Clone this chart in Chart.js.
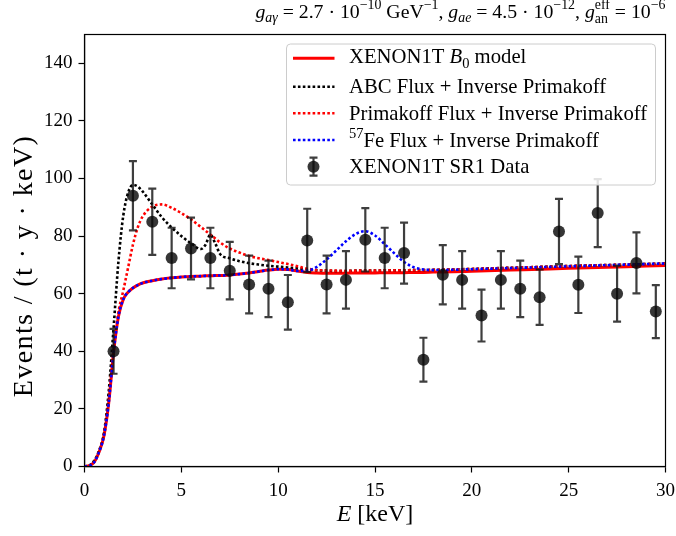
<!DOCTYPE html>
<html>
<head>
<meta charset="utf-8">
<script src="https://cdn.jsdelivr.net/npm/chart.js@4.4.1/dist/chart.umd.min.js"></script>
<style>
  html, body { margin: 0; padding: 0; background: #fff; }
  #wrap { width: 676px; height: 536px; }
</style>
</head>
<body>
<div id="wrap"><canvas id="spectrum" width="676" height="536"></canvas></div>
<script>
const SERIF = '"Liberation Serif", "DejaVu Serif", serif';

// XENON1T SR1 binned rate: bin centres [keV], rate and 1-sigma error
const binCenters = [1.5, 2.5, 3.5, 4.5, 5.5, 6.5, 7.5, 8.5, 9.5, 10.5, 11.5, 12.5, 13.5, 14.5, 15.5,
                    16.5, 17.5, 18.5, 19.5, 20.5, 21.5, 22.5, 23.5, 24.5, 25.5, 26.5, 27.5, 28.5, 29.5];
const sr1Rate = [40, 94, 85, 72.4, 75.7, 72.4, 68, 63.2, 61.7, 57, 78.5, 63.2, 64.8, 78.7, 72.4,
                 74.1, 37.1, 66.6, 64.8, 52.4, 64.8, 61.7, 58.8, 81.6, 63.1, 88, 60, 70.7, 53.8];
const sr1Err = [7.8, 12, 11.5, 10.5, 10.7, 10.5, 10, 10, 9.8, 9.5, 11, 10, 10, 11, 10.5,
                10.6, 7.6, 10.3, 10, 9, 10, 9.8, 9.6, 11.3, 9.8, 11.8, 9.7, 10.6, 9.2];

// model spectra sampled on a common energy grid [keV]
const energyGrid = [0, 0.25, 0.5, 0.75, 1.0, 1.25, 1.5, 1.75, 2.0, 2.25, 2.5, 2.75, 3.0, 3.5, 4.0, 4.5,
                    5.0, 5.5, 6.0, 6.25, 6.5, 6.75, 7.0, 7.5, 8.0, 8.5, 9.0, 9.5, 10.0, 10.5, 11.0, 11.5,
                    12.0, 12.5, 13.0, 13.5, 14.0, 14.5, 15.0, 15.5, 16.0, 16.5, 17.0, 17.5, 18, 19, 20,
                    22, 24, 26, 28, 30];
const b0Model = [0, 0.3, 1.5, 5, 10.5, 22, 39.5, 52, 58, 60.5, 62, 63, 63.7, 64.5, 65.1, 65.5,
                 65.8, 66, 66.1, 66.2, 66.2, 66.3, 66.3, 66.5, 66.8, 67.2, 67.7, 68.2, 68.5, 68.4, 67.9, 67.4,
                 67.2, 67.1, 67.1, 67.1, 67.2, 67.2, 67.2, 67.3, 67.3, 67.3, 67.4, 67.4, 67.5, 67.6, 67.8,
                 68.2, 68.6, 69, 69.4, 69.8];
const abcFlux = [0, 0.4, 2, 5.5, 11.5, 26, 48, 71, 87, 95, 97.8, 97.2, 95.5, 91, 86.5, 83,
                 80, 77.5, 75.5, 77, 80.5, 77.5, 73.8, 72.3, 71.3, 70.6, 70.1, 69.7, 69.4, 69.1, 68.8, 68.4,
                 68.1, 68, 67.9, 67.9, 68, 68, 68, 68.1, 68.1, 68.1, 68.2, 68.2, 68.3, 68.4, 68.6,
                 69, 69.4, 69.8, 70.1, 70.5];
const primakoffFlux = [0, 0.3, 1.6, 5.2, 11, 23, 40.5, 53.5, 61, 69, 77, 83, 86.8, 90.2, 91, 89.8,
                       88, 85.8, 83.2, 81.9, 80.5, 79.2, 77.8, 75.7, 74.3, 73.1, 72.3, 71.7, 71, 70.3, 69.5, 68.7,
                       68.2, 68.1, 68, 67.9, 68, 68, 68, 68.1, 68.1, 68.1, 68.2, 68.2, 68.3, 68.4, 68.6,
                       69, 69.4, 69.8, 70.1, 70.5];
const fe57Flux = [0, 0.3, 1.5, 5, 10.5, 22, 39.5, 52, 58, 60.5, 62, 63, 63.7, 64.5, 65.1, 65.5,
                  65.8, 66, 66.1, 66.2, 66.2, 66.3, 66.3, 66.5, 66.8, 67.2, 67.7, 68.2, 68.5, 68.4, 67.9, 68,
                  69.3, 71.9, 75, 78.2, 80.7, 81.7, 80.2, 77.2, 74, 71, 69.2, 68.4, 68.2, 68.3, 68.5,
                  68.9, 69.3, 69.7, 70.1, 70.5];

const xTicks = [0, 5, 10, 15, 20, 25, 30];
const yTicks = [0, 20, 40, 60, 80, 100, 120, 140];

const curve = (ys) => energyGrid.map((e, i) => ({ x: e, y: ys[i] }));

// text made of runs: italic, sub/superscript, or a stacked sup+sub pair
function runFont(r, size) {
  const s = (r.pos || r.stack) ? size * 0.7 : size;
  return (r.it ? 'italic ' : '') + s + 'px ' + SERIF;
}
function runWidth(ctx, r, size) {
  ctx.font = runFont(r, size);
  if (r.stack) return Math.max(ctx.measureText(r.stack.sup).width, ctx.measureText(r.stack.sub).width);
  return ctx.measureText(r.t).width;
}
function drawRuns(ctx, runs, x, y, size, align) {
  const total = runs.reduce((w, r) => w + runWidth(ctx, r, size), 0);
  let cx = align === 'right' ? x - total : align === 'center' ? x - total / 2 : x;
  ctx.textAlign = 'left';
  ctx.textBaseline = 'alphabetic';
  ctx.fillStyle = '#000';
  for (const r of runs) {
    const w = runWidth(ctx, r, size);
    ctx.font = runFont(r, size);
    if (r.stack) {
      ctx.fillText(r.stack.sup, cx, y - size * 0.42);
      ctx.fillText(r.stack.sub, cx, y + size * 0.26);
    } else {
      const dy = r.pos === 'sub' ? size * 0.24 : r.pos === 'sup' ? -size * 0.42 : 0;
      ctx.fillText(r.t, cx, y + dy);
    }
    cx += w;
  }
}

const titleRuns = [
  { t: 'g', it: 1 }, { t: 'aγ', it: 1, pos: 'sub' }, { t: ' = 2.7 · 10' }, { t: '−10', pos: 'sup' },
  { t: ' GeV' }, { t: '−1', pos: 'sup' }, { t: ', ' },
  { t: 'g', it: 1 }, { t: 'ae', it: 1, pos: 'sub' }, { t: ' = 4.5 · 10' }, { t: '−12', pos: 'sup' }, { t: ', ' },
  { t: 'g', it: 1 }, { stack: { sup: 'eff', sub: 'an' } }, { t: ' = 10' }, { t: '−6', pos: 'sup' }
];
const xLabelRuns = [{ t: 'E', it: 1 }, { t: ' [keV]' }];
const yLabelRuns = [{ t: 'Events / (t · y · keV)' }];

const legendRows = [
  { ds: 0, runs: [{ t: 'XENON1T ' }, { t: 'B', it: 1 }, { t: '0', pos: 'sub' }, { t: ' model' }], base: 63.3, hy: 58.3 },
  { ds: 1, runs: [{ t: 'ABC Flux + Inverse Primakoff' }], base: 93.3, hy: 86.7 },
  { ds: 2, runs: [{ t: 'Primakoff Flux + Inverse Primakoff' }], base: 120, hy: 113.3 },
  { ds: 3, runs: [{ t: '57', pos: 'sup' }, { t: 'Fe Flux + Inverse Primakoff' }], base: 146.7, hy: 140 },
  { ds: 4, runs: [{ t: 'XENON1T SR1 Data' }], base: 173.3, hy: 166.7 }
];

const DOT = [2.6, 2.3];
const ERR_COLOR = 'rgba(20,20,20,0.82)';

function errorBar(ctx, x, y0, y1, cap) {
  ctx.beginPath();
  ctx.moveTo(x, y0); ctx.lineTo(x, y1);
  ctx.moveTo(x - cap, y0); ctx.lineTo(x + cap, y0);
  ctx.moveTo(x - cap, y1); ctx.lineTo(x + cap, y1);
  ctx.stroke();
}

const errorBars = {
  id: 'errorBars',
  beforeDatasetDraw(chart, args) {
    if (args.index !== 4) return;
    const { ctx, scales: { x, y } } = chart;
    ctx.save();
    ctx.strokeStyle = ERR_COLOR;
    ctx.lineWidth = 2.2;
    binCenters.forEach((e, i) => {
      const px = x.getPixelForValue(e);
      errorBar(ctx, px, y.getPixelForValue(sr1Rate[i] + sr1Err[i]), y.getPixelForValue(sr1Rate[i] - sr1Err[i]), 4);
    });
    ctx.restore();
  }
};

const frameAndText = {
  id: 'frameAndText',
  afterDatasetsDraw(chart) {
    const { ctx, chartArea: a } = chart;
    ctx.save();
    ctx.strokeStyle = '#000';
    ctx.lineWidth = 1.2;
    ctx.strokeRect(a.left, a.top, a.right - a.left, a.bottom - a.top);
    ctx.restore();
  },
  afterDraw(chart) {
    const { ctx, chartArea: a } = chart;
    ctx.save();
    drawRuns(ctx, titleRuns, a.right, 17.5, 19.8, 'right');
    drawRuns(ctx, xLabelRuns, (a.left + a.right) / 2, 521, 24, 'center');
    ctx.save();
    ctx.translate(32, 266);
    ctx.rotate(-Math.PI / 2);
    ctx.letterSpacing = '1.4px';
    drawRuns(ctx, yLabelRuns, 0, 0, 28, 'center');
    ctx.letterSpacing = '0px';
    ctx.restore();

    // legend box
    const bx = 286.5, by = 44, bw = 369, bh = 141, r = 4;
    ctx.beginPath();
    ctx.roundRect(bx, by, bw, bh, r);
    ctx.fillStyle = 'rgba(255,255,255,0.85)';
    ctx.fill();
    ctx.strokeStyle = '#cccccc';
    ctx.lineWidth = 1;
    ctx.stroke();

    legendRows.forEach(row => {
      const ds = chart.data.datasets[row.ds];
      if (row.ds === 4) {
        ctx.strokeStyle = ERR_COLOR;
        ctx.lineWidth = 2.2;
        errorBar(ctx, 313.5, row.hy - 9, row.hy + 9, 4);
        ctx.beginPath();
        ctx.arc(313.5, row.hy, 6, 0, Math.PI * 2);
        ctx.fillStyle = ds.backgroundColor;
        ctx.fill();
      } else {
        ctx.beginPath();
        ctx.setLineDash(ds.borderDash || []);
        ctx.strokeStyle = ds.borderColor;
        ctx.lineWidth = ds.borderWidth;
        ctx.moveTo(293, row.hy);
        ctx.lineTo(334.5, row.hy);
        ctx.stroke();
        ctx.setLineDash([]);
      }
      drawRuns(ctx, row.runs, 349, row.base, 20.7, 'left');
    });
    ctx.restore();
  }
};

const lineSet = (data, color, width, dash, order) => ({
  type: 'line', data, borderColor: color, borderWidth: width, borderDash: dash,
  borderCapStyle: 'butt', pointRadius: 0, cubicInterpolationMode: 'monotone', fill: false, order
});

new Chart(document.getElementById('spectrum'), {
  type: 'scatter',
  data: {
    datasets: [
      lineSet(curve(b0Model), '#ff0000', 3, [], 4),
      lineSet(curve(abcFlux), '#000000', 2.6, DOT, 3),
      lineSet(curve(primakoffFlux), '#ff0000', 2.6, DOT, 2),
      lineSet(curve(fe57Flux), '#0000ff', 2.6, DOT, 1),
      {
        type: 'scatter',
        data: binCenters.map((e, i) => ({ x: e, y: sr1Rate[i] })),
        backgroundColor: 'rgba(10,10,10,0.82)',
        borderWidth: 0,
        pointRadius: 6,
        order: 0
      }
    ]
  },
  options: {
    responsive: false,
    animation: false,
    events: [],
    layout: { autoPadding: false, padding: { top: 34.5, right: 10.5, left: 0, bottom: 0 } },
    plugins: { legend: { display: false }, tooltip: { enabled: false } },
    scales: {
      x: {
        type: 'linear', min: 0, max: 30,
        afterBuildTicks: s => { s.ticks = xTicks.map(v => ({ value: v })); },
        afterFit: s => { s.height = 69.5; s.paddingLeft = 0; s.paddingRight = 0; },
        grid: { drawOnChartArea: false, drawTicks: true, tickLength: 6, tickColor: '#000', tickWidth: 1.2 },
        border: { display: true, color: '#000', width: 1.2 },
        ticks: { color: '#000', font: { family: SERIF, size: 19 }, padding: 7, maxRotation: 0 }
      },
      y: {
        type: 'linear', min: 0, max: 150,
        afterBuildTicks: s => { s.ticks = yTicks.map(v => ({ value: v })); },
        afterFit: s => { s.width = 84.5; s.paddingTop = 0; s.paddingBottom = 0; },
        grid: { drawOnChartArea: false, drawTicks: true, tickLength: 6, tickColor: '#000', tickWidth: 1.2 },
        border: { display: true, color: '#000', width: 1.2 },
        ticks: { color: '#000', font: { family: SERIF, size: 19 }, padding: 6 }
      }
    }
  },
  plugins: [errorBars, frameAndText]
});
</script>
</body>
</html>
